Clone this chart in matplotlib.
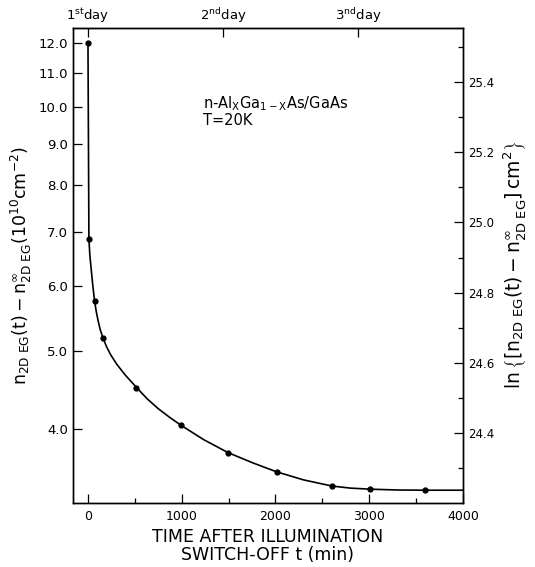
import numpy as np
import matplotlib
matplotlib.use("Agg")
import matplotlib.pyplot as plt
from matplotlib.ticker import FixedLocator, NullLocator, MultipleLocator

# ***** Data ***** #

# measured points: time after switch-off (min), n_2DEG(t) - n_inf (1e10 cm^-2)
t_meas = [0, 10, 71, 160, 515, 995, 1493, 2013, 2603, 3008, 3595]
n_meas = [12.0, 6.86, 5.75, 5.18, 4.50, 4.04, 3.74, 3.54, 3.40, 3.37, 3.36]

# drawn fit curve
t_fit = [0, 10, 20, 35, 50, 71, 88, 107, 130, 160, 200, 240, 309, 400, 515, 630,
         747, 870, 995, 1234, 1493, 1750, 2013, 2300, 2603, 2800, 3008, 3300,
         3595, 4000]
n_fit = [12.0, 6.86, 6.56, 6.29, 6.04, 5.75, 5.59, 5.45, 5.31, 5.18, 5.05, 4.945,
         4.805, 4.66, 4.505, 4.36, 4.24, 4.135, 4.04, 3.88, 3.74, 3.635, 3.54,
         3.46, 3.40, 3.38, 3.37, 3.362, 3.36, 3.36]

left_ticks = [4.0, 5.0, 6.0, 7.0, 8.0, 9.0, 10.0, 11.0, 12.0]
right_ticks = [24.4, 24.6, 24.8, 25.0, 25.2, 25.4]
day_ticks = [0, 1440, 2880]
day_labels = [r'1$^{st}$day', r'2$^{nd}$day', r'3$^{nd}$day']

# ***** Plot ***** #

plt.rcParams['font.family'] = 'DejaVu Sans'
plt.rcParams['mathtext.default'] = 'regular'

fig = plt.figure(figsize=(5.35, 5.67), dpi=100)
ax = fig.add_axes([0.1364, 0.1129, 0.729, 0.8377])

ax.plot(t_fit, n_fit, color='k', lw=1.2)
ax.plot(t_meas, n_meas, 'o', color='k', ms=3.5)

ax.set_yscale('log')
ylo, yhi = 3.24, 12.52
ax.set_ylim(ylo, yhi)
ax.set_xlim(-160, 4000)

ax.yaxis.set_major_locator(FixedLocator(left_ticks))
ax.yaxis.set_minor_locator(NullLocator())
ax.set_yticklabels(['%.1f' % v for v in left_ticks])
ax.set_xticks([0, 1000, 2000, 3000, 4000])
ax.xaxis.set_minor_locator(FixedLocator([500, 1500, 2500, 3500]))

ax.tick_params(axis='both', which='major', direction='in', length=6.5, width=0.9, labelsize=9.5)
ax.tick_params(axis='x', which='minor', direction='in', length=3.5, width=0.9)
ax.tick_params(axis='x', which='major', pad=5, labelsize=9)

# right axis: ln of the same quantity in cm^-2
ax2 = ax.twinx()
ax2.set_ylim(np.log(ylo * 1e10), np.log(yhi * 1e10))
ax2.set_yticks(right_ticks)
ax2.set_yticklabels(['%.1f' % v for v in right_ticks])
ax2.yaxis.set_minor_locator(MultipleLocator(0.1))
ax2.tick_params(axis='y', which='major', direction='in', length=6.5, width=0.9, labelsize=8.5)
ax2.tick_params(axis='y', which='minor', direction='in', length=3.5, width=0.9)

# top axis: days
top = ax.secondary_xaxis('top')
top.set_xticks(day_ticks)
top.set_xticklabels(day_labels)
top.tick_params(direction='in', length=6.5, width=0.9, labelsize=9.5, pad=2)

for a in (ax, ax2):
    for s in a.spines.values():
        s.set_linewidth(1.0)

ax.set_ylabel(r'$n_{2D\ EG}(t)-n^{\infty}_{2D\ EG}(10^{10}cm^{-2})$', fontsize=12.5, labelpad=3)
ax2.set_ylabel(r'$\ln\left\{[n_{2D\ EG}(t)-n^{\infty}_{2D\ EG}]\,cm^2\right\}$', fontsize=13.5,
               rotation=90, labelpad=5)
ax.set_xlabel('TIME AFTER ILLUMINATION\nSWITCH-OFF t (min)', fontsize=12.5, linespacing=1.0, labelpad=4)

ax.text(1230, 10.09, r'n-Al$_X$Ga$_{1-X}$As/GaAs', fontsize=10.5, va='center')
ax.text(1230, 9.61, 'T=20K', fontsize=10.5, va='center')

fig.savefig('out.png', dpi=100)
